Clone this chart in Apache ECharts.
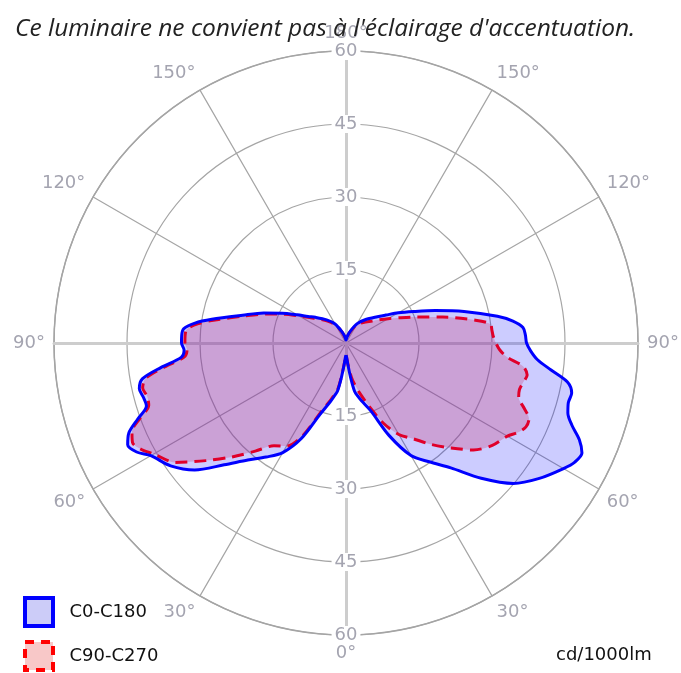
<!DOCTYPE html>
<html>
<head>
<meta charset="utf-8">
<script src="https://cdn.jsdelivr.net/npm/echarts@6/dist/echarts.min.js"></script>
<style>
html,body{margin:0;padding:0;background:#fff;}
#chart{width:681px;height:673px;}
</style>
</head>
<body>
<div id="chart"></div>
<script>
// gamma angles (deg), 0 = straight down, 180 = straight up
var gamma = [0, 2.5, 5, 7.5, 10, 12.5, 15, 20, 25, 30, 35, 40, 45, 50, 55, 60,
    62.5, 65, 67.5, 70, 72.5, 75, 77.5, 80, 82.5, 85, 87.5, 90, 92.5, 95, 97.5, 100,
    105, 110, 115, 120, 125, 130, 140, 150, 160, 170, 180];
// cd/1000lm
var c0 = [2.5, 3.0, 4.5, 7.0, 10.0, 11.2, 12.3, 14.8, 21.0, 26.7, 29.8, 33.5, 39.3, 44.9, 48.5, 51.6,
    53.0, 53.5, 51.9, 49.4, 47.8, 47.3, 47.5, 46.2, 42.5, 39.5, 38.0, 37.1, 36.9, 36.5, 34.6, 31.6,
    25.1, 19.5, 15.3, 12.4, 10.0, 8.4, 6.3, 4.6, 2.6, 1.3, 0.6];
var c180 = [2.5, 3.0, 4.5, 7.0, 10.0, 11.2, 12.5, 15.6, 21.6, 26.0, 28.6, 31.4, 35.4, 40.6, 44.0, 46.3,
    48.5, 49.5, 48.3, 45.5, 43.0, 43.1, 43.5, 42.5, 38.3, 34.0, 33.3, 33.8, 33.8, 33.5, 31.3, 28.0,
    22.0, 18.0, 14.5, 11.6, 9.5, 8.2, 6.2, 4.5, 2.5, 1.3, 0.6];
var c90 = [2.5, 3.0, 4.2, 6.0, 7.8, 9.0, 10.5, 13.8, 18.2, 21.7, 24.0, 27.2, 30.5, 34.2, 36.7, 38.3,
    39.8, 40.8, 40.7, 38.9, 37.2, 36.9, 37.3, 37.8, 36.7, 33.2, 31.6, 30.8, 30.3, 30.1, 29.9, 27.0,
    20.6, 15.6, 12.3, 10.0, 8.3, 7.0, 5.5, 4.2, 2.4, 1.2, 0.6];
var c270 = [2.5, 3.0, 4.4, 6.8, 9.6, 10.8, 12.1, 15.1, 21.0, 24.5, 25.8, 29.0, 33.1, 37.6, 42.8, 45.6,
    47.4, 48.4, 47.6, 45.0, 42.5, 42.3, 42.8, 41.8, 37.6, 33.4, 32.7, 33.1, 33.1, 32.8, 30.6, 27.3,
    21.5, 17.4, 14.0, 11.1, 9.1, 7.8, 5.9, 4.3, 2.4, 1.2, 0.6];

var names = ['C0-C180', 'C90-C270'];
var rMax = 60, rStep = 15, aStep = 30;

// right half = gamma, left half = 360 - gamma
function loop(right, left) {
    var pts = [];
    for (var i = 0; i < gamma.length; i++) pts.push([right[i], gamma[i]]);
    for (var j = gamma.length - 1; j >= 0; j--) pts.push([left[j], 360 - gamma[j]]);
    return pts;
}
var blueData = loop(c0, c180);
var redData = loop(c90, c270);

var chart = echarts.init(document.getElementById('chart'));
var center = [346, 343], R = 292;
var labelFont = 'DejaVu Sans';
var thick = {show: true, lineStyle: {color: '#cdcdcd', width: 3}};

var polars = [], radiusAxes = [], angleAxes = [];
[-90, 90, 0, 180].forEach(function (st, k) {
    polars.push({center: center, radius: R});
    radiusAxes.push({
        polarIndex: k, type: 'value', min: 0, max: rMax, interval: rStep, z: 1,
        axisLine: thick, axisTick: {show: false},
        splitLine: {show: k === 0, lineStyle: {color: '#a5a5a5', width: 1.2}},
        axisLabel: {
            show: k < 2, margin: 0, align: 'center', verticalAlign: 'middle',
            color: '#a4a4b0', fontFamily: labelFont, fontSize: 18,
            backgroundColor: '#fff', padding: [0, 3],
            formatter: function (v) { return v === 0 ? '' : v; }
        }
    });
    angleAxes.push({
        polarIndex: k, type: 'value', min: 0, max: 360, interval: aStep,
        startAngle: st, clockwise: false, show: k === 0,
        axisLine: {show: true, lineStyle: {color: '#a5a5a5', width: 1.5}},
        axisTick: {show: false},
        splitLine: {show: true, lineStyle: {color: ['rgba(0,0,0,0)', '#a5a5a5', '#a5a5a5'], width: 1.2}},
        axisLabel: {
            margin: 9, color: '#a4a4b0', fontFamily: labelFont, fontSize: 18,
            formatter: function (v) {
                if (v === 360) return '';
                return (v <= 180 ? v : 360 - v) + '°';
            }
        }
    });
});

// one legend box per curve, stacked
var legendStyles = [
    {color: '#ccccf8', borderColor: '#0000ff', borderWidth: 4},
    {color: '#f8c8c8', borderColor: '#ff0000', borderWidth: 4, borderType: [9, 7]}
];
var legends = names.map(function (n, i) {
    return {
        left: 23, top: 596 + i * 44, padding: 0, itemWidth: 28, itemHeight: 28,
        icon: 'rect', selectedMode: false,
        formatter: function (s) { return '  ' + s; },
        textStyle: {fontFamily: labelFont, fontSize: 18, color: '#111'},
        data: [{name: n, itemStyle: legendStyles[i]}]
    };
});

var option = {
    animation: false,
    title: [{
        text: "Ce luminaire ne convient pas à l'éclairage d'accentuation.",
        left: 10, top: 12,
        textStyle: {fontFamily: 'Open Sans', fontStyle: 'italic', fontWeight: 'normal', fontSize: 24.5, color: '#222'}
    }, {
        text: 'cd/1000lm', left: 551, top: 641,
        textStyle: {fontFamily: labelFont, fontWeight: 'normal', fontSize: 18, color: '#111'}
    }],
    legend: legends,
    polar: polars,
    radiusAxis: radiusAxes,
    angleAxis: angleAxes,
    series: [
        {name: names[0], type: 'line', coordinateSystem: 'polar', polarIndex: 0, data: blueData,
            smooth: 0.3, symbol: 'none', lineStyle: {width: 0}, areaStyle: {color: 'rgba(0,0,255,0.2)', opacity: 1}, z: 2},
        {name: names[1], type: 'line', coordinateSystem: 'polar', polarIndex: 0, data: redData,
            smooth: 0.3, symbol: 'none', lineStyle: {width: 0}, areaStyle: {color: 'rgba(200,60,120,0.3)', opacity: 1}, z: 3},
        {name: names[1], type: 'line', coordinateSystem: 'polar', polarIndex: 0, data: redData,
            smooth: 0.3, symbol: 'none', lineStyle: {color: '#e0002a', width: 3, type: [12, 7]}, z: 4},
        {name: names[0], type: 'line', coordinateSystem: 'polar', polarIndex: 0, data: blueData,
            smooth: 0.3, symbol: 'none', lineStyle: {color: '#0000ff', width: 3}, z: 5}
    ]
};
chart.setOption(option);
</script>
</body>
</html>
